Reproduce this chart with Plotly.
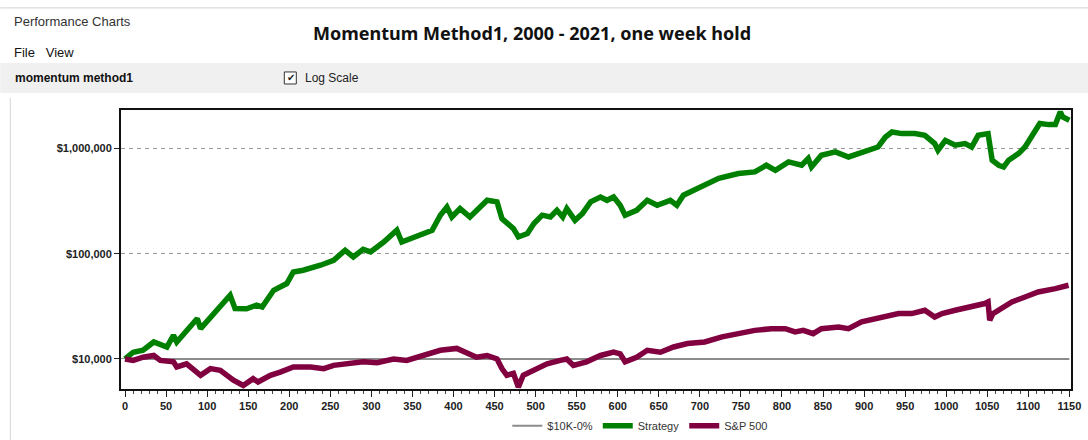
import plotly.graph_objects as go

# ---------------- data ----------------
strategy_weeks = [0, 10, 22, 35, 51, 59, 63, 75, 88, 92, 108, 124, 128, 134, 148, 160, 167, 181, 197, 205,
                  217, 238, 254, 268, 278, 290, 299, 315, 327, 331, 337, 347, 360, 374, 384, 392, 398, 408,
                  420, 441, 453, 459, 473, 479, 490, 498, 508, 518, 526, 533, 538, 548, 557, 567, 579, 587,
                  595, 603, 609, 623, 636, 648, 664, 672, 680, 692, 709, 723, 747, 767, 781, 792, 808, 824,
                  832, 836, 848, 865, 881, 893, 905, 917, 926, 934, 946, 962, 974, 986, 990, 999, 1011, 1023,
                  1031, 1039, 1051, 1054, 1056, 1064, 1070, 1076, 1088, 1096, 1104, 1114, 1125, 1133, 1139,
                  1142, 1150]
strategy_values = [10000, 11600, 12100, 14500, 13000, 16800, 14500, 18700, 24200, 19400, 27000, 38800, 40300,
                   30100, 30000, 32400, 31200, 44900, 52000, 67000, 69600, 77600, 86500, 107700, 93000, 110000,
                   104000, 129000, 155000, 167000, 129000, 139000, 155000, 167000, 232000, 277000, 223000,
                   268000, 223000, 321000, 310000, 215000, 173000, 144000, 155000, 193000, 232000, 223000,
                   258000, 223000, 268000, 207000, 240000, 310000, 345000, 321000, 345000, 288000, 232000,
                   258000, 321000, 288000, 321000, 288000, 359000, 400000, 463000, 520000, 576000, 597000,
                   691000, 619000, 743000, 691000, 800000, 665000, 860000, 925000, 828000, 891000, 960000,
                   1030000, 1280000, 1430000, 1380000, 1380000, 1330000, 1110000, 960000, 1190000, 1070000,
                   1110000, 1030000, 1330000, 1380000, 1030000, 771000, 691000, 665000, 771000, 891000,
                   1030000, 1280000, 1720000, 1680000, 1680000, 2220000, 1990000, 1850000]

sp500_weeks = [0, 10, 22, 35, 43, 59, 63, 75, 92, 104, 116, 132, 144, 156, 162, 177, 189, 205, 226, 242,
               254, 270, 290, 307, 327, 343, 363, 384, 404, 416, 428, 441, 453, 459, 465, 473, 479, 485, 497,
               514, 530, 538, 546, 562, 579, 595, 603, 609, 623, 636, 652, 668, 685, 706, 727, 747, 767, 787,
               804, 816, 826, 838, 848, 869, 881, 897, 917, 942, 958, 974, 986, 995, 1011, 1031, 1047, 1051,
               1053, 1057, 1067, 1080, 1096, 1112, 1133, 1149]
sp500_values = [10000, 9700, 10400, 10800, 9700, 9400, 8400, 9000, 7000, 8100, 7800, 6300, 5600, 6500, 6050,
                7000, 7500, 8400, 8400, 8100, 8700, 9000, 9400, 9200, 10000, 9700, 10800, 12100, 12600, 11600,
                10400, 10800, 10000, 8100, 7000, 7300, 5400, 7000, 7800, 9000, 9700, 10000, 8700, 9400, 10800,
                11600, 11200, 9400, 10400, 12100, 11600, 13000, 14000, 14500, 16200, 17400, 18700, 19400, 19400,
                18100, 18700, 17400, 19400, 20100, 19400, 22500, 24200, 27000, 27000, 29000, 25000, 27000,
                29000, 31200, 33600, 34800, 23300, 27000, 30000, 34800, 38800, 43300, 46600, 50100]

flat_weeks = [0, 1150]
flat_values = [10000, 10000]

x_tick_values = list(range(0, 1151, 50))
y_tick_values = [10000, 100000, 1000000]
y_tick_labels = ["$10,000", "$100,000", "$1,000,000"]

# ---------------- figure ----------------
FONT = "Liberation Sans, Arial, sans-serif"
TITLE_FONT = "Noto Sans, Liberation Sans, Arial, sans-serif"
L, R, T, B = 120.7, 1070.7, 110.0, 388.7


def px(x):
    return (x - L) / (R - L)


def py(y):
    return (B - y) / (B - T)


fig = go.Figure()
fig.add_trace(go.Scatter(x=flat_weeks, y=flat_values, mode="lines", name="$10K-0%",
                         line=dict(color="#8c8c8c", width=2)))
fig.add_trace(go.Scatter(x=strategy_weeks, y=strategy_values, mode="lines", name="Strategy",
                         line=dict(color="#008000", width=5.5)))
fig.add_trace(go.Scatter(x=sp500_weeks, y=sp500_values, mode="lines", name="S&P 500",
                         line=dict(color="#800040", width=5.5)))

fig.update_layout(
    width=1088, height=440, autosize=False,
    margin=dict(l=L, r=1088 - R, t=T, b=440 - B, pad=0, autoexpand=False),
    paper_bgcolor="white", plot_bgcolor="white",
    font=dict(family=FONT, size=11, color="#222"),
    showlegend=True,
    legend=dict(orientation="h", x=px(640), xanchor="center", y=py(440), yanchor="bottom",
                font=dict(family=FONT, size=11, color="#333"), itemwidth=30,
                bgcolor="rgba(0,0,0,0)"),
)

fig.update_xaxes(
    range=[-4.9, 1152], showgrid=False, zeroline=False,
    tickmode="array", tickvals=x_tick_values,
    ticks="outside", ticklen=6, tickwidth=1, tickcolor="#222",
    tickfont=dict(family=FONT, size=11, color="#222", weight="bold"),
    minor=dict(dtick=10, ticks="outside", ticklen=3, tickcolor="#444", showgrid=False),
    showline=True, linecolor="#111", linewidth=2, mirror=True,
)
fig.update_yaxes(
    type="log", range=[3.715, 6.364], zeroline=False,
    tickmode="array", tickvals=y_tick_values, ticktext=y_tick_labels,
    ticks="outside", ticklen=5, tickwidth=1, tickcolor="#222",
    tickfont=dict(family=FONT, size=11, color="#222", weight="bold"),
    showgrid=True, gridcolor="#9a9a9a", gridwidth=1, griddash="4px,4px",
    showline=True, linecolor="#111", linewidth=2, mirror=True,
)

# window chrome around the chart
shapes = [
    dict(type="line", xref="paper", yref="paper", x0=px(0), x1=px(1088), y0=py(8), y1=py(8),
         line=dict(color="#d0d0d0", width=1)),
    dict(type="rect", xref="paper", yref="paper", x0=px(0), x1=px(1088), y0=py(93), y1=py(63),
         fillcolor="#f0f0f0", line=dict(width=0), layer="below"),
    dict(type="line", xref="paper", yref="paper", x0=px(10), x1=px(10), y0=py(98), y1=py(440),
         line=dict(color="#d4d4d4", width=1)),
    dict(type="rect", xref="paper", yref="paper", x0=px(284), x1=px(296), y0=py(84), y1=py(72),
         fillcolor="white", line=dict(color="#333", width=1)),
]
fig.update_layout(shapes=shapes)

ann = [
    dict(text="Performance Charts", x=px(12), y=py(22), size=13, bold=False, color="#333"),
    dict(text="File   View", x=px(12), y=py(53), size=13, bold=False, color="#111"),
    dict(text="momentum method1", x=px(13), y=py(78), size=12, bold=True, color="#111"),
    dict(text="Log Scale", x=px(303), y=py(78), size=12, bold=False, color="#222"),
    dict(text="\u2714", x=px(285), y=py(78), size=10, bold=False, color="#222"),
]
annotations = []
for a in ann:
    annotations.append(dict(
        text=("<b>%s</b>" % a["text"]) if a["bold"] else a["text"],
        xref="paper", yref="paper", x=a["x"], y=a["y"], xanchor="left", yanchor="middle",
        showarrow=False, font=dict(family=FONT, size=a["size"], color=a["color"])))
annotations.append(dict(
    text="<b>Momentum Method1, 2000 - 2021, one week hold</b>",
    xref="paper", yref="paper", x=px(532), y=py(33), xanchor="center", yanchor="middle",
    showarrow=False, font=dict(family=TITLE_FONT, size=18, color="#111")))
fig.update_layout(annotations=annotations)

fig.write_html("out.html", config={"displayModeBar": False},
               post_script="document.body.style.margin='0';")
